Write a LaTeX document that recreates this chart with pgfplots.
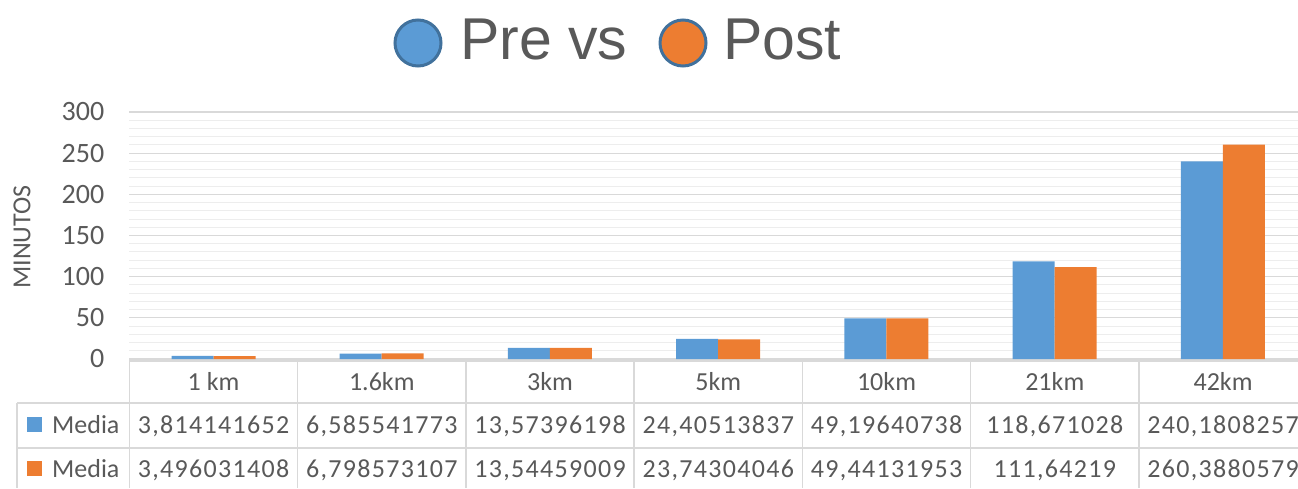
\documentclass[border=0pt]{standalone}
\usepackage{pgfplots}
\pgfplotsset{compat=1.18}
\usepackage{fontspec}
\setmainfont{Carlito}
\newfontfamily\numfont[LetterSpace=5]{Carlito}
\newfontfamily\titlefont{Liberation Sans}
\definecolor{cblue}{HTML}{5B9BD5}
\definecolor{corange}{HTML}{ED7D31}
\definecolor{txt}{HTML}{595959}
\definecolor{grid1}{HTML}{D9D9D9}
\definecolor{grid2}{HTML}{EDEDED}
\definecolor{mkline}{HTML}{41719C}
\begin{document}
\begin{tikzpicture}[x=1pt,y=1pt]
\useasboundingbox (0,0) rectangle (1298,488);
\begin{axis}[
  at={(129.4pt,129pt)}, anchor=south west,
  width=1177.6pt, height=247pt, scale only axis,
  xmin=-0.5, xmax=6.5, ymin=0, ymax=300,
  ybar=0pt, bar width=42pt,
  axis line style={draw=none},
  xtick=\empty,
  ytick={0,50,...,300},
  minor y tick num=4,
  ymajorgrids, yminorgrids,
  major grid style={grid1, line width=1.3pt},
  minor grid style={grid2, line width=1pt},
  major tick length=0pt, minor tick length=0pt,
  tick style={draw=none},
  yticklabel style={font=\fontsize{28}{30}\selectfont, text=txt, anchor=east, inner sep=0pt, xshift=-25pt},
  /pgf/number format/assume math mode=true,
  clip=false,
]
\addplot[fill=cblue, draw=none] coordinates {(0,3.814141652) (1,6.585541773) (2,13.57396198) (3,24.40513837) (4,49.19640738) (5,118.671028) (6,240.1808257)};
\addplot[fill=corange, draw=none] coordinates {(0,3.496031408) (1,6.798573107) (2,13.54459009) (3,23.74304046) (4,49.44131953) (5,111.64219) (6,260.3880579)};
\end{axis}
% data table grid
\foreach \k in {0,...,7} \draw[grid1, line width=1.5pt] ({129.4+\k*168.25},127) -- ({129.4+\k*168.25},0);
\draw[grid1, line width=1.5pt] (129.4,127) -- (1307,127);
\draw[grid1, line width=1.5pt] (17,85) -- (1307,85);
\draw[grid1, line width=1.5pt] (17,40) -- (1307,40);
\draw[grid1, line width=1.5pt] (17,85) -- (17,0);
% header row
\foreach \lab [count=\i from 0] in {1 km,1.6km,3km,5km,10km,21km,42km}
  \node[anchor=base, inner sep=0pt, text=txt, font=\fontsize{26}{28}\selectfont] at ({129.4+(\i+0.5)*168.25},98) {\lab};
\foreach \lab [count=\i from 0] in {{3,814141652},{6,585541773},{13,57396198},{24,40513837},{49,19640738},{118,671028},{240,1808257}}
  \node[anchor=base, inner sep=0pt, text=txt, font=\numfont\fontsize{26}{28}\selectfont] at ({129.4+(\i+0.5)*168.25},55) {\lab};
\foreach \lab [count=\i from 0] in {{3,496031408},{6,798573107},{13,54459009},{23,74304046},{49,44131953},{111,64219},{260,3880579}}
  \node[anchor=base, inner sep=0pt, text=txt, font=\numfont\fontsize{26}{28}\selectfont] at ({129.4+(\i+0.5)*168.25},11) {\lab};
% legend keys in table
\fill[cblue] (27,56) rectangle (42,71);
\fill[corange] (27,12) rectangle (42,27);
\node[anchor=base west, inner sep=0pt, text=txt, font=\fontsize{26}{28}\selectfont] at (52,55) {Media};
\node[anchor=base west, inner sep=0pt, text=txt, font=\fontsize{26}{28}\selectfont] at (52,11) {Media};
% y label
\node[rotate=90, inner sep=0pt, text=txt, font=\fontsize{26}{28}\selectfont] at (22,251) {MINUTOS};
% title
\filldraw[fill=cblue, draw=mkline, line width=3pt] (418,445) circle (23);
\filldraw[fill=corange, draw=mkline, line width=3pt] (683,445) circle (23);
\node[anchor=base west, inner sep=0pt, text=txt, font=\titlefont\fontsize{59}{66}\selectfont] at (460,428) {Pre vs};
\node[anchor=base west, inner sep=0pt, text=txt, font=\titlefont\fontsize{59}{66}\selectfont] at (723,428) {Post};
\end{tikzpicture}
\end{document}
